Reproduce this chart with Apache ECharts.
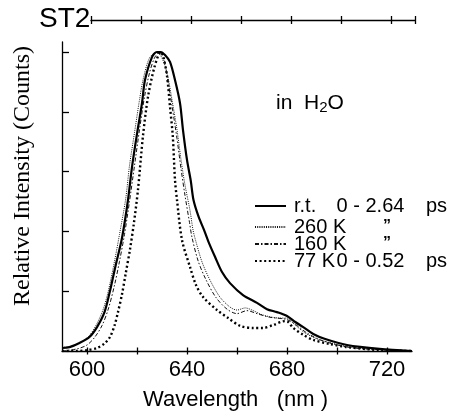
<!DOCTYPE html>
<html><head><meta charset="utf-8">
<script src="https://cdn.jsdelivr.net/npm/echarts@6/dist/echarts.min.js"></script>
<style>html,body{margin:0;padding:0;background:#fff}#c{width:460px;height:411px}</style>
</head><body><div id="c"></div>
<script>
// ---- axis ticks / labels ----
const xTicks = [600, 620, 640, 660, 680, 700, 720];
const xLabels = [600, 640, 680, 720];
const yTicks = [0.2, 0.4, 0.6, 0.8, 1.0];
const seriesNames = ['r.t.', '260 K', '160 K', '77 K'];

// ---- r.t. 0 - 2.64 ps (solid) ----
const wlRT = [590, 593, 597, 601, 604, 607, 609, 611.5, 614, 616.4, 618, 620, 622, 623.2, 626, 628, 629.5, 631.2, 633.2, 635.2, 637.2, 638.4, 640, 641.5, 642.6, 644.6, 646.8, 648.6, 651.2, 654, 657.2, 662.4, 668, 672, 676, 680, 683.3, 686.5, 690.5, 695.3, 704, 717, 730];
const intRT = [0.010, 0.013, 0.027, 0.047, 0.080, 0.130, 0.194, 0.288, 0.378, 0.505, 0.615, 0.726, 0.829, 0.906, 0.983, 1.0, 1.0, 0.99, 0.967, 0.906, 0.829, 0.739, 0.639, 0.57, 0.505, 0.45, 0.405, 0.365, 0.315, 0.264, 0.227, 0.187, 0.161, 0.140, 0.130, 0.117, 0.097, 0.080, 0.057, 0.040, 0.020, 0.007, 0.0];

// ---- 260 K (fine dotted) ----
const wl260 = [590, 594, 598, 601, 604, 606.5, 608.5, 611, 613, 615.5, 617, 619, 621, 622.5, 625, 628, 630, 632, 634, 636, 637.6, 639.2, 641.2, 642.4, 643.4, 646, 649.2, 653.2, 657.2, 660, 663.3, 666, 670.5, 677.3, 680, 683.3, 687.3, 693.3, 705.3, 718, 730];
const int260 = [0.012, 0.016, 0.032, 0.052, 0.092, 0.14, 0.20, 0.30, 0.39, 0.51, 0.62, 0.73, 0.84, 0.91, 0.98, 1.0, 0.98, 0.93, 0.84, 0.74, 0.64, 0.555, 0.47, 0.405, 0.371, 0.298, 0.237, 0.18, 0.147, 0.137, 0.144, 0.137, 0.120, 0.110, 0.110, 0.087, 0.060, 0.037, 0.013, 0.004, 0.0];

// ---- 160 K (dash-dot) ----
const wl160 = [590, 596, 600, 603, 606, 608.5, 611, 613, 615, 617, 619, 621, 623, 625, 627, 629, 631, 632, 634, 636, 637.6, 639.2, 641, 642, 644.5, 647.5, 651.5, 656, 660, 664, 668, 673, 680, 684, 688, 694, 705, 718, 730];
const int160 = [0.0, 0.007, 0.02, 0.045, 0.085, 0.14, 0.22, 0.30, 0.39, 0.50, 0.62, 0.74, 0.85, 0.93, 0.98, 1.0, 0.97, 0.92, 0.82, 0.71, 0.61, 0.52, 0.43, 0.38, 0.30, 0.24, 0.18, 0.14, 0.125, 0.135, 0.125, 0.113, 0.105, 0.085, 0.06, 0.035, 0.012, 0.004, 0.0];

// ---- 77 K 0 - 0.52 ps (bold dotted) ----
const wl77 = [590, 596, 600, 604, 607, 609.2, 611, 612.4, 614, 615.5, 617.2, 618.8, 620.4, 622.4, 624.4, 627, 629.5, 630.5, 632, 633.2, 634.3, 635.2, 636, 638, 641.2, 643.6, 646.4, 652, 656.5, 661.3, 666.5, 670.5, 674.5, 679.3, 680.5, 682.5, 686.5, 690.5, 697.3, 704, 717, 730];
const int77 = [0.0, 0.0, 0.003, 0.01, 0.025, 0.047, 0.085, 0.13, 0.19, 0.26, 0.34, 0.43, 0.54, 0.72, 0.85, 0.95, 1.0, 0.985, 0.92, 0.817, 0.72, 0.572, 0.505, 0.371, 0.281, 0.221, 0.181, 0.137, 0.110, 0.084, 0.077, 0.077, 0.087, 0.100, 0.097, 0.077, 0.054, 0.037, 0.023, 0.013, 0.003, 0.0];

const SANS = '"Liberation Sans", Arial, Helvetica, sans-serif';
const SERIF = '"Liberation Serif", "Times New Roman", serif';
const pairs = (a, b) => a.map((x, i) => [x, b[i]]);

const chart = echarts.init(document.getElementById('c'), null, { renderer: 'canvas' });

const lineStyles = [
  { color: '#000', width: 2.2, type: 'solid' },
  { color: '#111', width: 1, type: [1, 1.2] },
  { color: '#111', width: 1, type: [4, 2, 1.5, 2] },
  { color: '#000', width: 2.4, type: [2, 2.6] }
];
const dataSets = [pairs(wlRT, intRT), pairs(wl260, int260), pairs(wl160, int160), pairs(wl77, int77)];

const legendTexts = [
  '{a|r.t.}{b|0 - 2.64}{c|ps}',
  '{a|260 K}{d|\u201D}',
  '{a|160 K}{d|\u201D}',
  '{a|77 K}{b|0 - 0.52}{c|ps}'
];
const legendTops = [196, 217, 234, 251];
const rich = {
  a: { fontSize: 20, fontFamily: SANS, color: '#000', width: 41, padding: [0, 0, 0, 3], lineHeight: 20 },
  b: { fontSize: 20, fontFamily: SANS, color: '#000', width: 71, align: 'right', lineHeight: 20 },
  c: { fontSize: 20, fontFamily: SANS, color: '#000', padding: [0, 0, 0, 20], lineHeight: 20 },
  d: { fontSize: 16, fontFamily: SANS, fontWeight: 'bold', color: '#000', width: 56, align: 'right', lineHeight: 20 }
};

const axisLineStyle = { color: '#000', width: 1.3 };

const option = {
  backgroundColor: '#fff',
  animation: false,
  color: ['#000', '#000', '#000', '#000'],
  grid: [
    { left: 62, top: 42, width: 350, height: 309 },
    { left: 91, top: 20, width: 324, height: 10 }
  ],
  xAxis: [
    { gridIndex: 0, type: 'value', min: 590, max: 730, position: 'bottom',
      axisLine: { show: true, onZero: false, lineStyle: axisLineStyle },
      axisTick: { show: true, inside: true, length: 3.5, customValues: xTicks, lineStyle: axisLineStyle },
      axisLabel: { show: true, customValues: xLabels, fontSize: 22, fontFamily: SANS, color: '#000', margin: 8 },
      splitLine: { show: false } },
    { gridIndex: 0, type: 'value', min: 590, max: 730, position: 'bottom',
      axisLine: { show: false },
      axisTick: { show: true, inside: false, length: 3.5, customValues: xTicks, lineStyle: axisLineStyle },
      axisLabel: { show: false }, splitLine: { show: false } },
    { gridIndex: 1, type: 'value', min: 600, max: 729.7, interval: 20, position: 'top',
      axisLine: { show: true, onZero: false, lineStyle: axisLineStyle },
      axisTick: { show: true, inside: true, length: 4, lineStyle: axisLineStyle },
      axisLabel: { show: false }, splitLine: { show: false } },
    { gridIndex: 1, type: 'value', min: 600, max: 729.7, interval: 20, position: 'top',
      axisLine: { show: false, onZero: false },
      axisTick: { show: true, inside: false, length: 4, lineStyle: axisLineStyle },
      axisLabel: { show: false }, splitLine: { show: false } }
  ],
  yAxis: [
    { gridIndex: 0, type: 'value', min: 0, max: 1.0334,
      axisLine: { show: true, onZero: false, lineStyle: axisLineStyle },
      axisTick: { show: true, inside: true, length: 7, customValues: yTicks, lineStyle: axisLineStyle },
      axisLabel: { show: false }, splitLine: { show: false } },
    { gridIndex: 1, type: 'value', min: 0, max: 1, show: false }
  ],
  legend: legendTexts.map((t, i) => ({
    data: [seriesNames[i]],
    left: 254, top: legendTops[i], padding: 0,
    itemWidth: 31, itemHeight: 14, selectedMode: false,
    itemStyle: { opacity: 0 },
    formatter: () => t,
    textStyle: { fontSize: 20, fontFamily: SANS, color: '#000', lineHeight: 20, rich: rich }
  })),
  series: dataSets.map((d, i) => ({
    name: seriesNames[i], type: 'line', xAxisIndex: 0, yAxisIndex: 0,
    data: d, symbol: 'none', smooth: 0.3, silent: true,
    itemStyle: { color: '#000' },
    lineStyle: lineStyles[i], z: 10 - i
  })),
  graphic: [
    { type: 'text', x: 39, y: 19.5, style: { text: 'ST2', fontSize: 28, fontFamily: SANS, fill: '#000', align: 'left', verticalAlign: 'middle' } },
    { type: 'text', x: 276, y: 103.5, style: {
        text: '{a|in  H}{s|2}{a|O}', align: 'left', verticalAlign: 'middle',
        rich: {
          a: { fontSize: 21, fontFamily: SANS, fill: '#000', lineHeight: 24, verticalAlign: 'middle' },
          s: { fontSize: 15, fontFamily: SANS, fill: '#000', lineHeight: 15, verticalAlign: 'bottom' }
        } } },
    { type: 'text', x: 22.5, y: 176, rotation: Math.PI / 2, style: { text: 'Relative Intensity (Counts)', fontSize: 24, fontFamily: SERIF, fill: '#000', align: 'center', verticalAlign: 'middle' } },
    { type: 'text', x: 235.5, y: 400, style: { text: 'Wavelength   (nm )', fontSize: 22, fontFamily: SANS, fill: '#000', align: 'center', verticalAlign: 'middle' } }
  ]
};
chart.setOption(option);
</script></body></html>
